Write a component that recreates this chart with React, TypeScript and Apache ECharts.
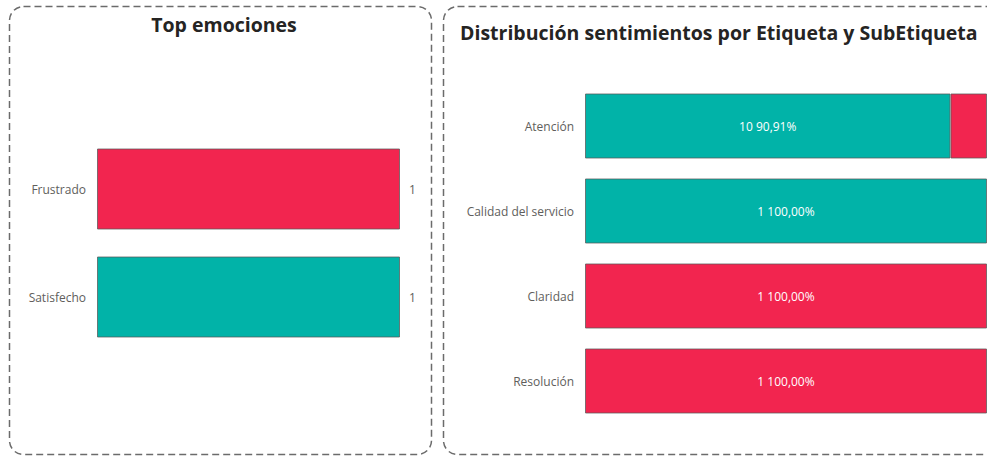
import React, { useEffect, useRef } from "react";
import * as echarts from "echarts";

// ---- Data ----
const emotionCategories = ["Frustrado", "Satisfecho"];
const emotionCounts = [1, 1];

const tagCategories = ["Atención", "Calidad del servicio", "Claridad", "Resolución"];
const positiveCounts = [10, 1, 0, 0];
const negativeCounts = [1, 0, 1, 1];

const leftTitle = "Top emociones";
const rightTitle = "Distribución sentimientos por Etiqueta y SubEtiqueta";

// ---- Styles ----
const TEAL = "#01B3A8";
const RED = "#F2254F";
const emotionColors: Record<string, string> = { Frustrado: RED, Satisfecho: TEAL };
const FONT = "'Open Sans', 'Noto Sans', sans-serif";
const BAR_BORDER = "rgba(90,90,90,0.75)";

const fmtPct = (v: number) => v.toFixed(2).replace(".", ",") + "%";

export default function App() {
  const ref = useRef<HTMLDivElement>(null);

  useEffect(() => {
    if (!ref.current) return;
    const chart = echarts.init(ref.current, undefined, { renderer: "svg" });

    const totals = tagCategories.map((_, i) => positiveCounts[i] + negativeCounts[i]);
    const posPct = positiveCounts.map((v, i) => (v === 0 ? "-" : (v / totals[i]) * 100));
    const negPct = negativeCounts.map((v, i) => (v === 0 ? "-" : (v / totals[i]) * 100));

    const makeLabel = (counts: number[]) => ({
      show: true,
      position: "inside",
      color: "#ffffff",
      fontFamily: FONT,
      fontSize: 12,
      formatter: (p: any) => {
        const i = p.dataIndex;
        const pct = (counts[i] / totals[i]) * 100;
        if (pct < 15) return "";
        return `${counts[i]} ${fmtPct(pct)}`;
      },
    });

    chart.setOption({
      animation: false,
      title: [
        {
          text: leftTitle,
          left: 219,
          textAlign: "center",
          top: 9,
          textStyle: { fontFamily: FONT, fontSize: 19.5, fontWeight: "bold", color: "#252423" },
        },
        {
          text: rightTitle,
          left: 455,
          top: 17,
          textStyle: { fontFamily: FONT, fontSize: 19.5, fontWeight: "bold", color: "#252423" },
        },
      ],
      graphic: [
        {
          type: "rect",
          shape: { x: 9.5, y: 6.5, width: 422, height: 448, r: 14 },
          style: { fill: "none", stroke: "#6b6b6b", lineWidth: 1.5, lineDash: [7, 4] },
          silent: true,
        },
        {
          type: "rect",
          shape: { x: 443.5, y: 6.5, width: 620, height: 448, r: 14 },
          style: { fill: "none", stroke: "#6b6b6b", lineWidth: 1.5, lineDash: [7, 4] },
          silent: true,
        },
      ],
      grid: [
        { left: 97, top: 135, width: 303, height: 216, containLabel: false },
        { left: 585, top: 83.5, width: 405, height: 340, containLabel: false },
      ],
      xAxis: [
        { gridIndex: 0, type: "value", min: 0, max: 1, show: false },
        { gridIndex: 1, type: "value", min: 0, max: 100, show: false },
      ],
      yAxis: [
        {
          gridIndex: 0,
          type: "category",
          data: emotionCategories,
          inverse: true,
          axisLine: { show: false },
          axisTick: { show: false },
          axisLabel: { color: "#605E5C", fontFamily: FONT, fontSize: 12, margin: 11 },
        },
        {
          gridIndex: 1,
          type: "category",
          data: tagCategories,
          inverse: true,
          axisLine: { show: false },
          axisTick: { show: false },
          axisLabel: { color: "#605E5C", fontFamily: FONT, fontSize: 12, margin: 11 },
        },
      ],
      series: [
        {
          type: "bar",
          xAxisIndex: 0,
          yAxisIndex: 0,
          barCategoryGap: "25%",
          data: emotionCounts.map((v, i) => ({
            value: v,
            itemStyle: { color: emotionColors[emotionCategories[i]] },
          })),
          itemStyle: { borderColor: BAR_BORDER, borderWidth: 1 },
          label: {
            show: true,
            position: "right",
            distance: 9,
            color: "#605E5C",
            fontFamily: FONT,
            fontSize: 12,
          },
        },
        {
          name: "Positivo",
          type: "bar",
          stack: "s",
          xAxisIndex: 1,
          yAxisIndex: 1,
          barCategoryGap: "23.5%",
          data: posPct,
          itemStyle: { color: TEAL, borderColor: BAR_BORDER, borderWidth: 1 },
          label: makeLabel(positiveCounts),
        },
        {
          name: "Negativo",
          type: "bar",
          stack: "s",
          xAxisIndex: 1,
          yAxisIndex: 1,
          barCategoryGap: "23.5%",
          data: negPct,
          itemStyle: { color: RED, borderColor: BAR_BORDER, borderWidth: 1 },
          label: makeLabel(negativeCounts),
        },
      ],
    });

    return () => chart.dispose();
  }, []);

  return (
    <div
      ref={ref}
      style={{ position: "absolute", left: 0, top: 0, width: 987, height: 457, background: "#ffffff" }}
    />
  );
}
